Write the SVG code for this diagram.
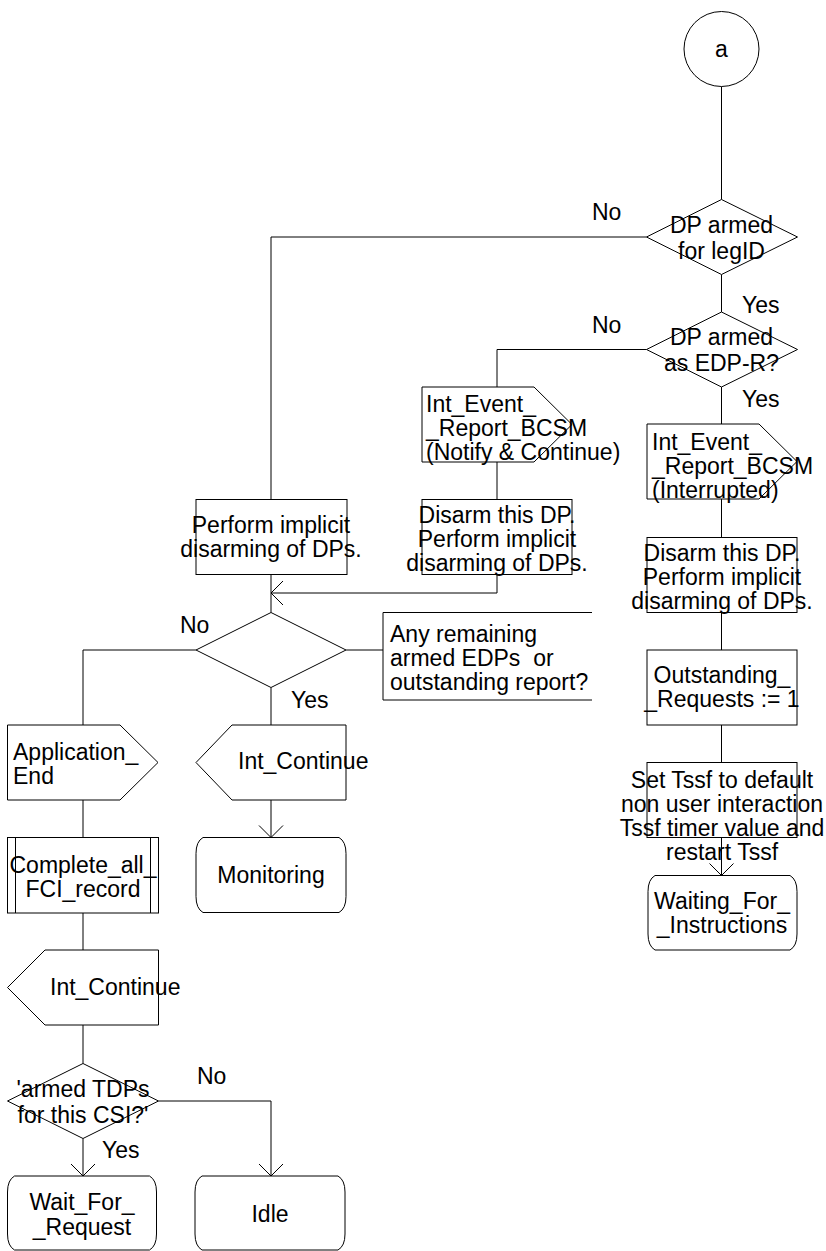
<svg xmlns="http://www.w3.org/2000/svg" width="826" height="1251" viewBox="0 0 826 1251">
<style>
.t{font-family:"Liberation Sans",Arial,sans-serif;font-size:23px;fill:#000}
.m{text-anchor:middle}
.s{fill:#fff;stroke:#000;stroke-width:1}
.l{fill:none;stroke:#000;stroke-width:1}
</style>
<defs>
<marker id="arr" viewBox="-13 -13 26 26" refX="0" refY="0" markerWidth="26" markerHeight="26" markerUnits="userSpaceOnUse" orient="auto">
<path d="M-12,-12 L0,0 L-12,12" fill="none" stroke="#000" stroke-width="1"/>
</marker>
</defs>
<rect width="826" height="1251" fill="#fff"/>
<g id="connectors" class="l">
<path d="M721.5,86.5 V199.5"/>
<path d="M721.5,274.5 V312"/>
<path d="M646.5,237 H271 V499.5"/>
<path d="M646.5,349.5 H497 V387"/>
<path d="M721.5,387 V424"/>
<path d="M497,462 V499.5"/>
<path d="M497,574.5 V593 H271" marker-end="url(#arr)"/>
<path d="M271,574.5 V612.5"/>
<path d="M721.5,499 V537.5"/>
<path d="M721.5,612.5 V650"/>
<path d="M721.5,725 V762.5"/>
<path d="M721.5,837.5 V875.5" marker-end="url(#arr)"/>
<path d="M346,650 H383"/>
<path d="M196,650 H83 V725"/>
<path d="M271,687.5 V725"/>
<path d="M271,800 V837.5" marker-end="url(#arr)"/>
<path d="M83,800 V837.5"/>
<path d="M83,913 V950"/>
<path d="M83,1025 V1063.5"/>
<path d="M83,1138.5 V1176" marker-end="url(#arr)"/>
<path d="M158.5,1101 H271 V1176" marker-end="url(#arr)"/>
</g>
<g id="labels" class="t">
<text x="592" y="220">No</text>
<text x="742" y="313">Yes</text>
<text x="592" y="333">No</text>
<text x="742" y="407">Yes</text>
<text x="180" y="633">No</text>
<text x="291" y="708">Yes</text>
<text x="197" y="1084">No</text>
<text x="102" y="1158">Yes</text>
</g>
<g id="start">
<circle class="s" cx="721.5" cy="49" r="37.5"/>
<text class="t m" x="721.5" y="57">a</text>
</g>
<g id="dec_legid">
<polygon class="s" points="721.5,199.5 797.5,237 721.5,274.5 646.5,237"/>
<text class="t m" x="721.5" y="233">DP armed</text>
<text class="t m" x="721.5" y="259">for legID</text>
</g>
<g id="dec_edpr">
<polygon class="s" points="721.5,312 797.5,349.5 721.5,387 646.5,349.5"/>
<text class="t m" x="721.5" y="345">DP armed</text>
<text class="t m" x="721.5" y="371">as EDP-R?</text>
</g>
<g id="out_notify">
<polygon class="s" points="422,387 534,387 572,424.5 534,462 422,462"/>
<text class="t" x="426" y="412">Int_Event_</text>
<text class="t" x="426" y="436">_Report_BCSM</text>
<text class="t" x="426" y="460">(Notify &amp; Continue)</text>
</g>
<g id="out_interrupted">
<polygon class="s" points="647,424 759,424 797,461.5 759,499 647,499"/>
<text class="t" x="652" y="450">Int_Event_</text>
<text class="t" x="652" y="474">_Report_BCSM</text>
<text class="t" x="652" y="498">(Interrupted)</text>
</g>
<g id="task_disarm1">
<rect class="s" x="422" y="499.5" width="150" height="75"/>
<text class="t m" x="497" y="523">Disarm this DP.</text>
<text class="t m" x="497" y="547">Perform implicit</text>
<text class="t m" x="497" y="571">disarming of DPs.</text>
</g>
<g id="task_perform">
<rect class="s" x="196" y="499.5" width="151" height="75"/>
<text class="t m" x="271" y="533">Perform implicit</text>
<text class="t m" x="271" y="557">disarming of DPs.</text>
</g>
<g id="task_disarm2">
<rect class="s" x="647" y="537.5" width="150" height="75"/>
<text class="t m" x="722" y="561">Disarm this DP.</text>
<text class="t m" x="722" y="585">Perform implicit</text>
<text class="t m" x="722" y="609">disarming of DPs.</text>
</g>
<g id="task_outstanding">
<rect class="s" x="647" y="650" width="150" height="75"/>
<text class="t m" x="722" y="683">Outstanding_</text>
<text class="t m" x="722" y="707">_Requests := 1</text>
</g>
<g id="task_tssf">
<rect class="s" x="647" y="762.5" width="150" height="75"/>
<text class="t m" x="722" y="788">Set Tssf to default</text>
<text class="t m" x="722" y="812">non user interaction</text>
<text class="t m" x="722" y="836">Tssf timer value and</text>
<text class="t m" x="722" y="860">restart Tssf</text>
</g>
<g id="state_waiting">
<path class="s" d="M655,875.5 H790 Q797,879.5 797,891.5 V934 Q797,946 790,950 H655 Q648,946 648,934 V891.5 Q648,879.5 655,875.5 Z"/>
<text class="t m" x="722" y="909">Waiting_For_</text>
<text class="t m" x="722" y="933">_Instructions</text>
</g>
<g id="dec_remaining">
<polygon class="s" points="271,612.5 346,650 271,687.5 196,650"/>
</g>
<g id="comment_remaining">
<path class="l" d="M592,612.5 H383 V700 H592"/>
<text class="t" x="390" y="642">Any remaining</text>
<text class="t" x="390" y="666" xml:space="preserve">armed EDPs  or</text>
<text class="t" x="390" y="690">outstanding report?</text>
</g>
<g id="out_append">
<polygon class="s" points="7.5,725 120,725 158,762.5 120,800 7.5,800"/>
<text class="t" x="13" y="760">Application_</text>
<text class="t" x="13" y="784">End</text>
</g>
<g id="in_continue1">
<polygon class="s" points="232,725 346,725 346,800 232,800 196,762.5"/>
<text class="t" x="238" y="769">Int_Continue</text>
</g>
<g id="state_monitoring">
<path class="s" d="M203,837.5 H339 Q346,841.5 346,853.5 V896.5 Q346,908.5 339,912.5 H203 Q196,908.5 196,896.5 V853.5 Q196,841.5 203,837.5 Z"/>
<text class="t m" x="271" y="883">Monitoring</text>
</g>
<g id="proc_complete">
<rect class="s" x="7.5" y="837.5" width="151" height="75.5"/>
<path class="l" d="M15.5,837.5 V913 M150.5,837.5 V913"/>
<text class="t m" x="83" y="873">Complete_all_</text>
<text class="t m" x="83" y="897">FCI_record</text>
</g>
<g id="in_continue2">
<polygon class="s" points="45,950 158.5,950 158.5,1025 45,1025 7.5,987.5"/>
<text class="t" x="50" y="995">Int_Continue</text>
</g>
<g id="dec_tdps">
<polygon class="s" points="83,1063.5 158.5,1101 83,1138.5 7.5,1101"/>
<text class="t m" x="83" y="1097">'armed TDPs</text>
<text class="t m" x="83" y="1123">for this CSI?'</text>
</g>
<g id="state_wait">
<path class="s" d="M14.5,1176 H149.5 Q156.5,1180 156.5,1192 V1234 Q156.5,1246 149.5,1250 H14.5 Q7.5,1246 7.5,1234 V1192 Q7.5,1180 14.5,1176 Z"/>
<text class="t m" x="82" y="1210">Wait_For_</text>
<text class="t m" x="82" y="1235">_Request</text>
</g>
<g id="state_idle">
<path class="s" d="M202,1176 H338 Q345,1180 345,1192 V1234 Q345,1246 338,1250 H202 Q195,1246 195,1234 V1192 Q195,1180 202,1176 Z"/>
<text class="t m" x="270" y="1222">Idle</text>
</g>
</svg>
